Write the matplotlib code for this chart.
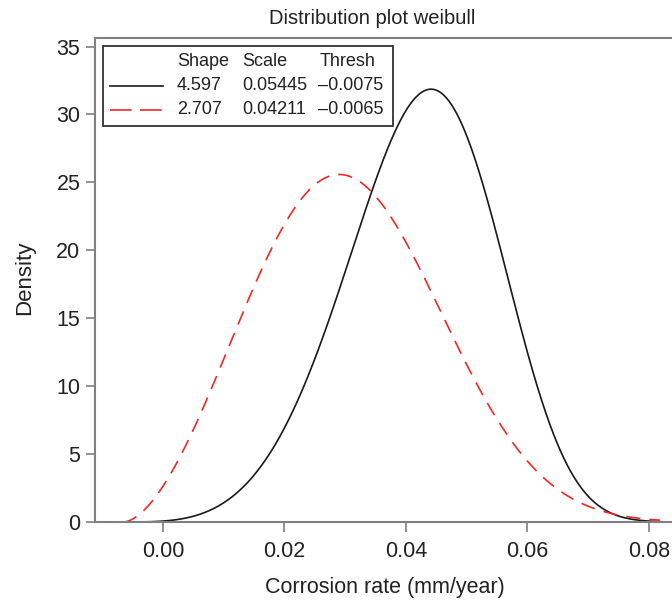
import numpy as np
import matplotlib.pyplot as plt
from matplotlib.patches import Rectangle
from matplotlib.lines import Line2D

plt.rcParams['font.family'] = ['Liberation Sans', 'DejaVu Sans']

# weibull parameters as printed in the legend
shapes = [4.597, 2.707]
scales = [0.05445, 0.04211]
threshs = [-0.0075, -0.0065]
shape_lbl = ['4.597', '2.707']
scale_lbl = ['0.05445', '0.04211']
thresh_lbl = ['\u20130.0075', '\u20130.0065']
colors = ['#1a1a1a', '#f02828']
styles = ['-', (0, (8.5, 5.5))]
legend_styles = ['-', (0, (13, 5))]
x_end = 0.0818

xticks = [0.00, 0.02, 0.04, 0.06, 0.08]
yticks = [0, 5, 10, 15, 20, 25, 30, 35]

W, H = 672, 600
fig = plt.figure(figsize=(W / 100, H / 100), dpi=100)

def px(x, y):
    return x / W, 1 - y / H

ax = fig.add_axes([95 / W, 1 - 522 / H, (W - 95) / W, (522 - 38) / H])

for k, lam, th, c, ls in zip(shapes, scales, threshs, colors, styles):
    x = np.linspace(th, x_end, 600)
    z = np.clip((x - th) / lam, 0, None)
    pdf = k / lam * z ** (k - 1) * np.exp(-z ** k)
    ax.plot(x, pdf, color=c, linestyle=ls, lw=1.2)

ax.set_xlim(-0.01119, 0.08379)
ax.set_ylim(0, 35.63)
ax.set_xticks(xticks)
ax.set_xticklabels(['%.2f' % v for v in xticks])
ax.set_yticks(yticks)
ax.tick_params(direction='out', width=1.2, color='#808080',
               labelsize=15.5, labelcolor='#222222')
ax.tick_params(axis='x', length=7, pad=6.5)
ax.tick_params(axis='y', length=6.2, pad=4.3)
for s in ['left', 'bottom', 'top']:
    ax.spines[s].set_color('#808080')
    ax.spines[s].set_linewidth(1.5)
ax.spines['right'].set_visible(False)

fig.text(*px(372, 18), 'Distribution plot weibull', ha='center', va='center',
         fontsize=14.5, color='#222222')
fig.text(*px(385, 587), 'Corrosion rate (mm/year)', ha='center', va='center',
         fontsize=15.5, color='#222222')
fig.text(*px(25, 278), 'Density', ha='center', va='center', rotation=90,
         fontsize=16, color='#222222')

# legend table
x0, y0 = px(103, 126)
x1, y1 = px(393, 46)
fig.patches.append(Rectangle((x0, y0), x1 - x0, y1 - y0, transform=fig.transFigure,
                             fill=True, facecolor='white', edgecolor='#333333',
                             lw=1.3, zorder=5))
tkw = dict(ha='left', va='center', fontsize=13, color='#222222', zorder=6)
fig.text(*px(177, 62), 'Shape', **tkw)
fig.text(*px(242, 62), 'Scale', **tkw)
fig.text(*px(320, 62), 'Thresh', **tkw)
for i, yy in enumerate([86, 110]):
    xa, ya = px(110, yy)
    xb, _ = px(163, yy)
    fig.lines.append(Line2D([xa, xb], [ya, ya], transform=fig.transFigure,
                            color=colors[i], linestyle=legend_styles[i], lw=1.2, zorder=6))
    fig.text(*px(177, yy), shape_lbl[i], **tkw)
    fig.text(*px(242, yy), scale_lbl[i], **tkw)
    fig.text(*px(318, yy), thresh_lbl[i], **tkw)

fig.savefig('out.png', dpi=100)
